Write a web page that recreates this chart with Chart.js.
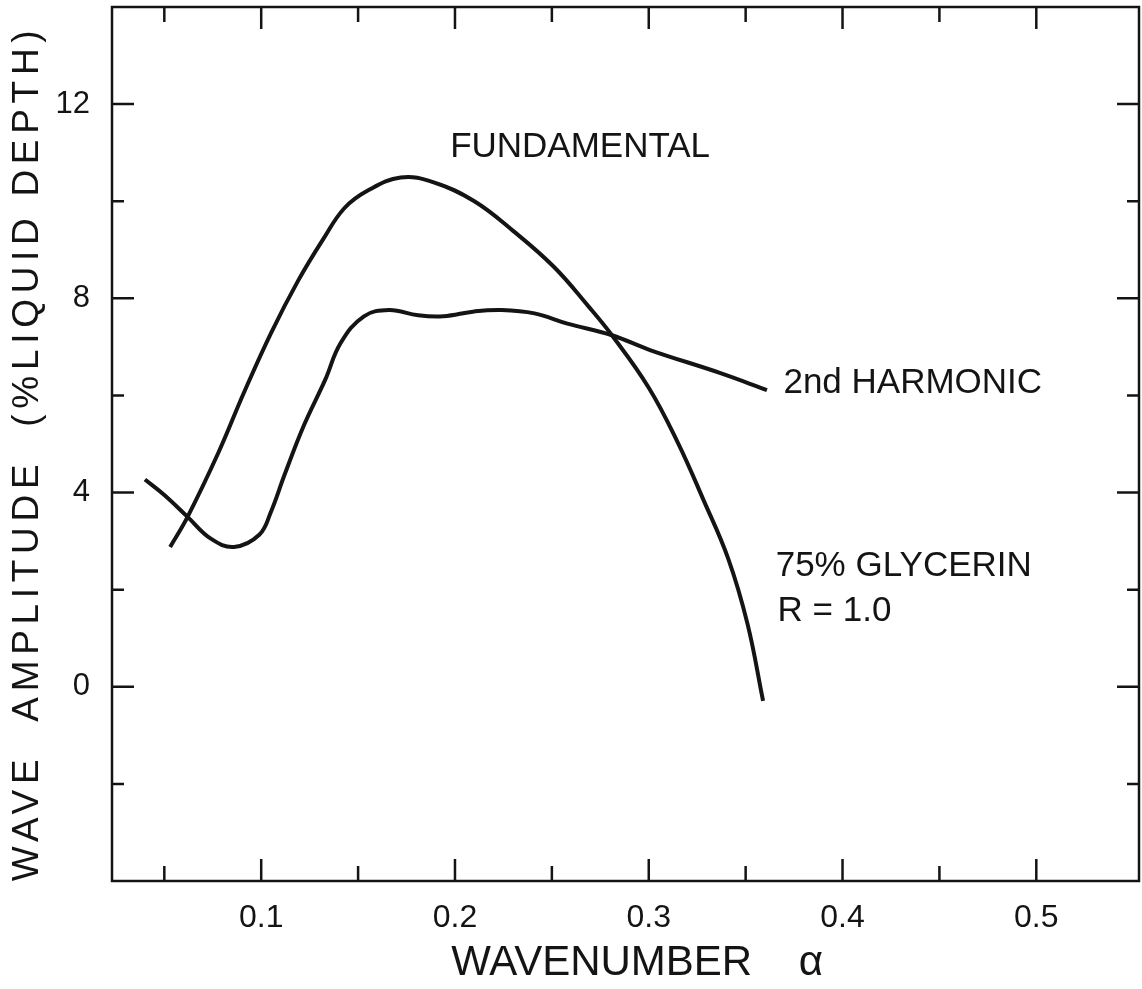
<!DOCTYPE html>
<html>
<head>
<meta charset="utf-8">
<title>Wave amplitude vs wavenumber</title>
<script src="https://cdn.jsdelivr.net/npm/chart.js@4/dist/chart.umd.min.js"></script>
<style>
  html, body { margin: 0; padding: 0; background: #fff; }
  canvas { display: block; }
</style>
</head>
<body>
<canvas id="chart" width="1142" height="989"></canvas>
<script>
// ============================================
// Data
// ============================================

const fundamentalAlpha = [0.053, 0.062, 0.078, 0.091, 0.105, 0.119, 0.132, 0.143, 0.155, 0.172, 0.189,
  0.210, 0.230, 0.251, 0.269, 0.281, 0.300, 0.315, 0.328, 0.341, 0.351, 0.359];
const fundamentalAmp = [2.88, 3.50, 4.83, 6.05, 7.28, 8.36, 9.22, 9.86, 10.22, 10.49, 10.39,
  10.00, 9.39, 8.65, 7.83, 7.24, 6.16, 5.03, 3.87, 2.64, 1.29, -0.29];

const harmonicAlpha = [0.040, 0.050, 0.062, 0.074, 0.086, 0.099, 0.105, 0.112, 0.122, 0.133, 0.141, 0.153,
  0.166, 0.181, 0.194, 0.210, 0.224, 0.241, 0.258, 0.281, 0.301, 0.337, 0.361];
const harmonicAmp = [4.27, 3.95, 3.50, 3.05, 2.88, 3.13, 3.60, 4.36, 5.38, 6.32, 7.08, 7.63,
  7.76, 7.65, 7.63, 7.73, 7.76, 7.69, 7.48, 7.24, 6.93, 6.46, 6.11];

const xTickLabels = ['0.1', '0.2', '0.3', '0.4', '0.5'];
const yTickLabels = ['0', '4', '8', '12'];

const seriesNames = ['FUNDAMENTAL', '2nd HARMONIC'];
const noteLines = ['75% GLYCERIN', 'R = 1.0'];

// ============================================
// Styles
// ============================================

const INK = '#141414';
const FONT = '"Liberation Sans", Arial, sans-serif';

// text placed in data coordinates
const notes = [
  { text: seriesNames[0], x: 0.1975, y: 11.1 },
  { text: seriesNames[1], x: 0.3695, y: 6.24 },
  { text: noteLines[0], x: 0.3655, y: 2.49 },
  { text: noteLines[1], x: 0.3665, y: 1.55 }
];

function toPoints(xs, ys) {
  return xs.map((x, i) => ({ x: x, y: ys[i] }));
}

// ============================================
// Plugins
// ============================================

// frame + inward tick marks on all four sides
const frameTicks = {
  id: 'frameTicks',
  afterDraw(chart) {
    const { ctx, chartArea: a, scales } = chart;
    ctx.save();
    ctx.strokeStyle = INK;
    ctx.lineWidth = 2.5;
    ctx.strokeRect(a.left, a.top, a.right - a.left, a.bottom - a.top);

    scales.x.ticks.forEach(t => {
      const px = scales.x.getPixelForValue(t.value);
      if (px < a.left + 10 || px > a.right - 10) return;
      const major = xTickLabels.includes(t.value.toFixed(2).replace(/0$/, ''));
      const len = major ? 22 : 15;
      ctx.beginPath();
      ctx.moveTo(px, a.bottom); ctx.lineTo(px, a.bottom - len);
      ctx.moveTo(px, a.top); ctx.lineTo(px, a.top + len);
      ctx.stroke();
    });
    scales.y.ticks.forEach(t => {
      const py = scales.y.getPixelForValue(t.value);
      if (py < a.top + 10 || py > a.bottom - 10) return;
      const major = yTickLabels.includes(String(t.value));
      const len = major ? 22 : 12;
      ctx.beginPath();
      ctx.moveTo(a.left, py); ctx.lineTo(a.left + len, py);
      ctx.moveTo(a.right, py); ctx.lineTo(a.right - len, py);
      ctx.stroke();
    });
    ctx.restore();
  }
};

// curve labels and the fluid note
const noteText = {
  id: 'noteText',
  afterDraw(chart) {
    const { ctx, scales } = chart;
    ctx.save();
    ctx.fillStyle = INK;
    ctx.font = '35px ' + FONT;
    ctx.textAlign = 'left';
    ctx.textBaseline = 'middle';
    notes.forEach(n => {
      ctx.fillText(n.text, scales.x.getPixelForValue(n.x), scales.y.getPixelForValue(n.y));
    });
    ctx.restore();
  }
};

// rotated y title, letter-spaced like the hand lettering
const yTitle = {
  id: 'yTitle',
  afterDraw(chart) {
    const { ctx, chartArea: a } = chart;
    ctx.save();
    ctx.fillStyle = INK;
    ctx.font = '37px ' + FONT;
    ctx.letterSpacing = '5.7px';
    ctx.textAlign = 'center';
    ctx.textBaseline = 'middle';
    ctx.translate(28, (a.top + a.bottom) / 2 + 9);
    ctx.rotate(-Math.PI / 2);
    ctx.fillText('WAVE  AMPLITUDE  (%LIQUID DEPTH)', 0, 0);
    ctx.restore();
  }
};

// ============================================
// Chart
// ============================================

const lineStyle = {
  borderColor: INK,
  borderWidth: 4,
  pointRadius: 0,
  fill: false,
  tension: 0.4
};

new Chart(document.getElementById('chart'), {
  type: 'line',
  data: {
    datasets: [
      { label: seriesNames[0], data: toPoints(fundamentalAlpha, fundamentalAmp), ...lineStyle },
      { label: seriesNames[1], data: toPoints(harmonicAlpha, harmonicAmp), ...lineStyle }
    ]
  },
  options: {
    responsive: false,
    animation: false,
    devicePixelRatio: 1,
    layout: { padding: { top: 7, right: 3, left: 0, bottom: 0 } },
    plugins: {
      legend: { display: false },
      tooltip: { enabled: false }
    },
    scales: {
      x: {
        type: 'linear',
        min: 0.023,
        max: 0.553,
        grid: { display: false },
        border: { display: false },
        ticks: {
          stepSize: 0.05,
          includeBounds: false,
          autoSkip: false,
          maxRotation: 0,
          padding: 10,
          color: INK,
          font: { family: FONT, size: 32 },
          callback: value => {
            const s = value.toFixed(2).replace(/0$/, '');
            return xTickLabels.includes(s) ? s : '';
          }
        },
        title: {
          display: true,
          text: '  WAVENUMBER    α',
          color: INK,
          font: { family: FONT, size: 42 },
          padding: { top: 0, bottom: 0 }
        },
        afterFit: scale => {
          scale.height = 108;
          scale.paddingLeft = 0;
          scale.paddingRight = 0;
        }
      },
      y: {
        min: -4,
        max: 14,
        grid: { display: false },
        border: { display: false },
        ticks: {
          stepSize: 2,
          padding: 14,
          color: INK,
          font: { family: FONT, size: 31 },
          callback: value => yTickLabels.includes(String(value)) ? String(value) : ''
        },
        afterFit: scale => {
          scale.width = 112;
          scale.paddingTop = 0;
          scale.paddingBottom = 0;
        }
      }
    }
  },
  plugins: [frameTicks, noteText, yTitle]
});
</script>
</body>
</html>
